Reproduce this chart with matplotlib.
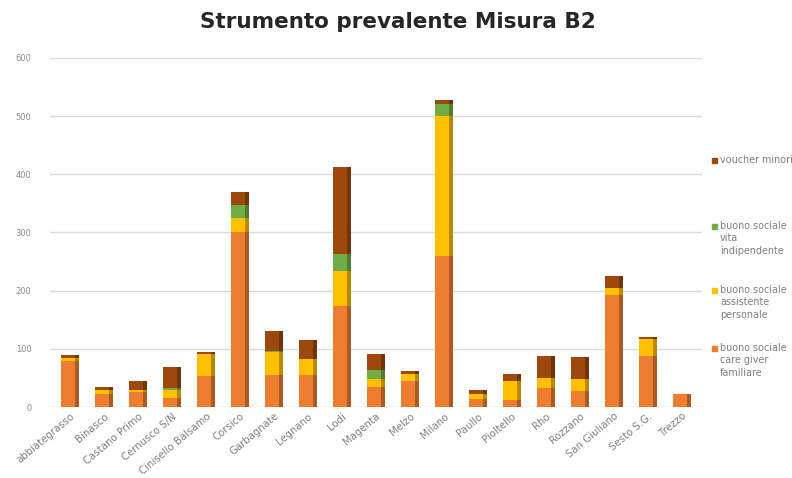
import numpy as np
import matplotlib
matplotlib.use("Agg")
import matplotlib.pyplot as plt
import matplotlib.colors as mcolors
from matplotlib.patches import Rectangle

# ambiti (categorie asse x)
ambiti = ["abbiategrasso", "Binasco", "Castano Primo", "Cernusco S/N", "Cinisello Balsamo",
          "Corsico", "Garbagnate", "Legnano", "Lodi", "Magenta", "Melzo", "Milano",
          "Paullo", "Pioltello", "Rho", "Rozzano", "San Giuliano", "Sesto S.G.", "Trezzo"]

# valori (stime)
care_giver = [79, 22, 25, 16, 54, 300, 55, 55, 174, 35, 45, 260, 13, 12, 33, 27, 192, 87, 22]
assistente = [5, 8, 5, 14, 37, 25, 40, 28, 60, 14, 12, 240, 10, 32, 17, 22, 12, 30, 0]
vita_indip = [0, 0, 0, 3, 0, 22, 2, 0, 29, 14, 0, 20, 0, 0, 0, 0, 0, 0, 0]
voucher = [5, 4, 15, 35, 4, 23, 33, 32, 150, 28, 5, 8, 6, 13, 38, 37, 21, 3, 1]

serie = [
    ("buono sociale\ncare giver\nfamiliare", care_giver, "#ED7D31"),
    ("buono sociale\nassistente\npersonale", assistente, "#FFC000"),
    ("buono sociale\nvita\nindipendente", vita_indip, "#70AD47"),
    ("voucher minori", voucher, "#9E480E"),
]


def scurisci(c, f=0.72):
    r, g, b = mcolors.to_rgb(c)
    return (r * f, g * f, b * f)


W, H = 792, 478
fig = plt.figure(figsize=(W / 100, H / 100), dpi=100)
ax = fig.add_axes([0.0626, 0.1485, 0.824, 0.7305])

x = np.arange(len(ambiti))
base = np.zeros(len(ambiti))
for label, vals, col in serie:
    vals = np.array(vals, dtype=float)
    # faccia frontale
    ax.bar(x - 0.06, vals, 0.42, bottom=base, color=col, zorder=3)
    # lato (effetto 3D)
    ax.bar(x + 0.21, vals, 0.12, bottom=base, color=scurisci(col), zorder=3)
    base += vals

ax.set_ylim(0, 600)
ax.set_xlim(-0.6, len(ambiti) - 0.4)
ax.set_yticks(range(0, 601, 100))
ax.yaxis.grid(True, color="#D9D9D9", lw=1, zorder=0)
ax.axhline(0, color="#F8CBAD", ls=":", lw=1, zorder=1)
for s in ax.spines.values():
    s.set_visible(False)
ax.tick_params(axis="both", length=0, colors="#8C8C8C")
ax.tick_params(axis="y", labelsize=6, pad=13)
ax.tick_params(axis="x", pad=3)
ax.set_xticks(x)
ax.set_xticklabels(ambiti, rotation=40, ha="right", rotation_mode="anchor",
                   fontsize=7.3, color="#7F7F7F")

fig.text(0.502, 0.955, "Strumento prevalente Misura B2", ha="center", va="center",
         fontsize=15.5, fontweight="bold", color="#262626")

# legenda a destra, voci distribuite come nell'originale
leg_y = [348, 290, 226, 160]
for (label, vals, col), yy in zip(serie, leg_y):
    fig.add_artist(Rectangle((712 / W, 1 - (yy + 3) / H), 5 / W, 5 / H,
                             transform=fig.transFigure, color=col))
    fig.text(720 / W, 1 - (yy - 5) / H, label, ha="left", va="top",
             fontsize=6.9, color="#7F7F7F", linespacing=1.3)

fig.savefig("out.png", dpi=100)
